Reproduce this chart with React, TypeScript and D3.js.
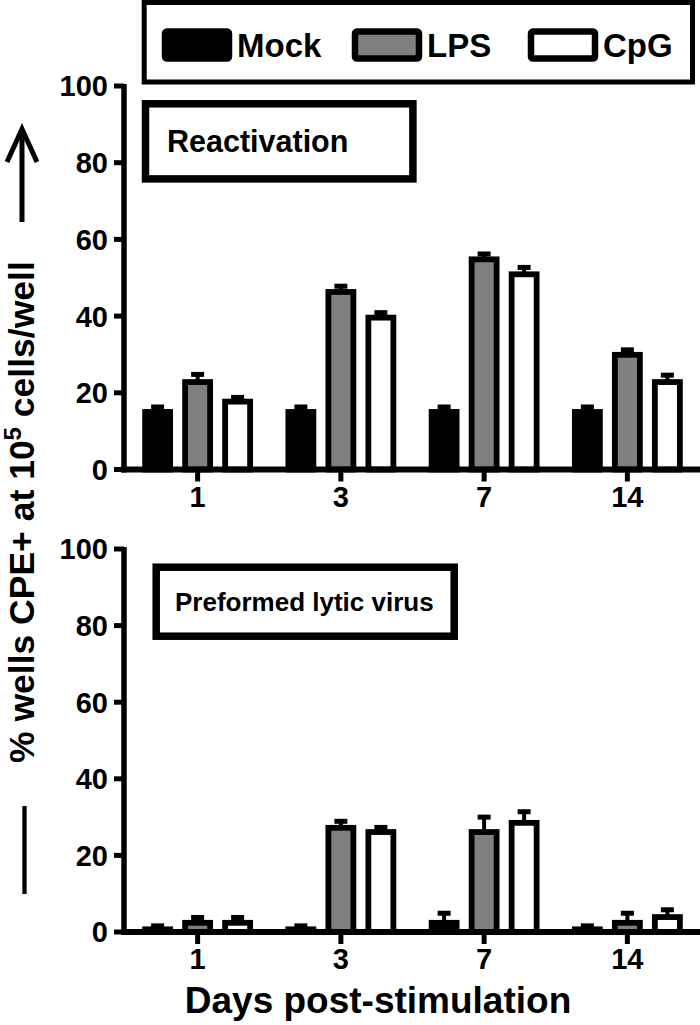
import React from 'react';
import * as d3 from 'd3';

const days = ['1', '3', '7', '14'];
const series = ['Mock', 'LPS', 'CpG'];
const seriesFill = ['#000000', '#808080', '#ffffff'];

const reactMock = [15, 15, 15, 15];
const reactMockErr = [1.3, 1.3, 1.3, 1.3];
const reactLPS = [22.8, 46.3, 54.8, 29.9];
const reactLPSErr = [2, 1.5, 1.4, 1.3];
const reactCpG = [17.7, 39.6, 50.9, 22.8];
const reactCpGErr = [1.1, 1.3, 1.8, 1.8];

const lyticMock = [0.7, 0.7, 2.4, 0.7];
const lyticMockErr = [0.9, 0.9, 2.5, 0.9];
const lyticLPS = [2.4, 27.2, 26.1, 2.4];
const lyticLPSErr = [1.4, 1.7, 3.9, 2.5];
const lyticCpG = [2.4, 26.1, 28.5, 3.9];
const lyticCpGErr = [1.4, 1.2, 2.9, 1.9];

const yTicks = [0, 20, 40, 60, 80, 100];
const panelTitles = ['Reactivation', 'Preformed lytic virus'];
const xTitle = 'Days post-stimulation';

const FONT = '"Liberation Sans", Arial, Helvetica, sans-serif';

const x0 = d3.scaleBand<string>().domain(days).range([126, 699]).padding(0);
const x1 = d3.scalePoint<string>().domain(series).range([-40, 40]);
const BAR_W = 25;

type PanelProps = {
  values: number[][];
  errors: number[][];
  yTop: number;
  yBottom: number;
  title: string;
  titleBox: { x: number; y: number; w: number; h: number; fs: number; tx: number };
};

function Panel({ values, errors, yTop, yBottom, title, titleBox }: PanelProps) {
  const y = d3.scaleLinear().domain([0, 100]).range([yBottom, yTop]);
  const axisX = 124;
  return (
    <g>
      {days.map((d, di) => (
        <g key={d}>
          {series.map((s, si) => {
            const cx = (x0(d) as number) + x0.bandwidth() / 2 + (x1(s) as number);
            const v = values[si][di];
            return (
              <rect
                key={s}
                x={cx - BAR_W / 2}
                y={y(v)}
                width={BAR_W}
                height={y(0) - y(v)}
                fill={seriesFill[si]}
                stroke="#000"
                strokeWidth={5.8}
              />
            );
          })}
          {series.map((s, si) => {
            const cx = (x0(d) as number) + x0.bandwidth() / 2 + (x1(s) as number);
            const v = values[si][di];
            const e = errors[si][di];
            return (
              <g key={s + 'e'}>
                <line x1={cx} x2={cx} y1={y(v)} y2={y(v + e)} stroke="#000" strokeWidth={4} />
                <line x1={cx - 6.5} x2={cx + 6.5} y1={y(v + e)} y2={y(v + e)} stroke="#000" strokeWidth={5} />
              </g>
            );
          })}
        </g>
      ))}
      <line x1={axisX} x2={axisX} y1={y(100) - 2} y2={y(0) + 3} stroke="#000" strokeWidth={5.5} />
      {yTicks.map((t) => (
        <g key={t}>
          <line x1={114} x2={axisX} y1={y(t)} y2={y(t)} stroke="#000" strokeWidth={5} />
          <text
            x={108}
            y={y(t)}
            dy="0.36em"
            textAnchor="end"
            fontFamily={FONT}
            fontWeight="bold"
            fontSize={29}
          >
            {t}
          </text>
        </g>
      ))}
      <line x1={axisX - 2.75} x2={700} y1={y(0)} y2={y(0)} stroke="#000" strokeWidth={6} />
      {days.map((d) => {
        const cx = (x0(d) as number) + x0.bandwidth() / 2;
        return (
          <g key={d}>
            <line x1={cx} x2={cx} y1={y(0)} y2={y(0) + 12} stroke="#000" strokeWidth={5} />
            <text
              x={cx}
              y={y(0) + 37}
              textAnchor="middle"
              fontFamily={FONT}
              fontWeight="bold"
              fontSize={29}
            >
              {d}
            </text>
          </g>
        );
      })}
      <rect
        x={titleBox.x}
        y={titleBox.y}
        width={titleBox.w}
        height={titleBox.h}
        fill="#fff"
        stroke="#000"
        strokeWidth={7.5}
      />
      <text
        x={titleBox.tx}
        y={titleBox.y + titleBox.h / 2}
        dy="0.36em"
        fontFamily={FONT}
        fontWeight="bold"
        fontSize={titleBox.fs}
      >
        {title}
      </text>
    </g>
  );
}

export default function App() {
  const legendX = [162, 352, 528];
  return (
    <svg
      width={700}
      height={1025}
      style={{ position: 'absolute', left: 0, top: 0, background: '#fff' }}
    >
      <rect width={700} height={1025} fill="#fff" />
      <rect x={144.2} y={2.5} width={548.3} height={79.5} fill="#fff" stroke="#000" strokeWidth={5} />
      {series.map((s, i) => (
        <g key={s}>
          <rect
            x={legendX[i] + 3}
            y={31.5}
            width={64}
            height={27}
            rx={2}
            fill={seriesFill[i]}
            stroke="#000"
            strokeWidth={6.5}
          />
          <text x={legendX[i] + 75} y={57} fontFamily={FONT} fontWeight="bold" fontSize={33}>
            {s}
          </text>
        </g>
      ))}

      <Panel
        values={[reactMock, reactLPS, reactCpG]}
        errors={[reactMockErr, reactLPSErr, reactCpGErr]}
        yTop={86}
        yBottom={469.5}
        title={panelTitles[0]}
        titleBox={{ x: 145.5, y: 103.8, w: 267.4, h: 75.1, fs: 30.5, tx: 167 }}
      />
      <Panel
        values={[lyticMock, lyticLPS, lyticCpG]}
        errors={[lyticMockErr, lyticLPSErr, lyticCpGErr]}
        yTop={549}
        yBottom={932}
        title={panelTitles[1]}
        titleBox={{ x: 156.2, y: 567.2, w: 298, h: 69, fs: 26, tx: 175 }}
      />

      <text
        x={378}
        y={1013}
        textAnchor="middle"
        fontFamily={FONT}
        fontWeight="bold"
        fontSize={37}
      >
        {xTitle}
      </text>

      <text
        transform="translate(34,763) rotate(-90)"
        fontFamily={FONT}
        fontWeight="bold"
        fontSize={35.5}
      >
        <tspan>% wells CPE+ at 10</tspan>
        <tspan dy={-13} fontSize={24}>5</tspan>
        <tspan dy={13}> cells/well</tspan>
      </text>
      <line x1={22} x2={22} y1={222} y2={133} stroke="#000" strokeWidth={5} />
      <polyline
        points="7,162 22,129 37,162"
        fill="none"
        stroke="#000"
        strokeWidth={5}
        strokeLinejoin="miter"
      />
      <line x1={24.5} x2={24.5} y1={806} y2={894} stroke="#000" strokeWidth={4.3} />
    </svg>
  );
}
